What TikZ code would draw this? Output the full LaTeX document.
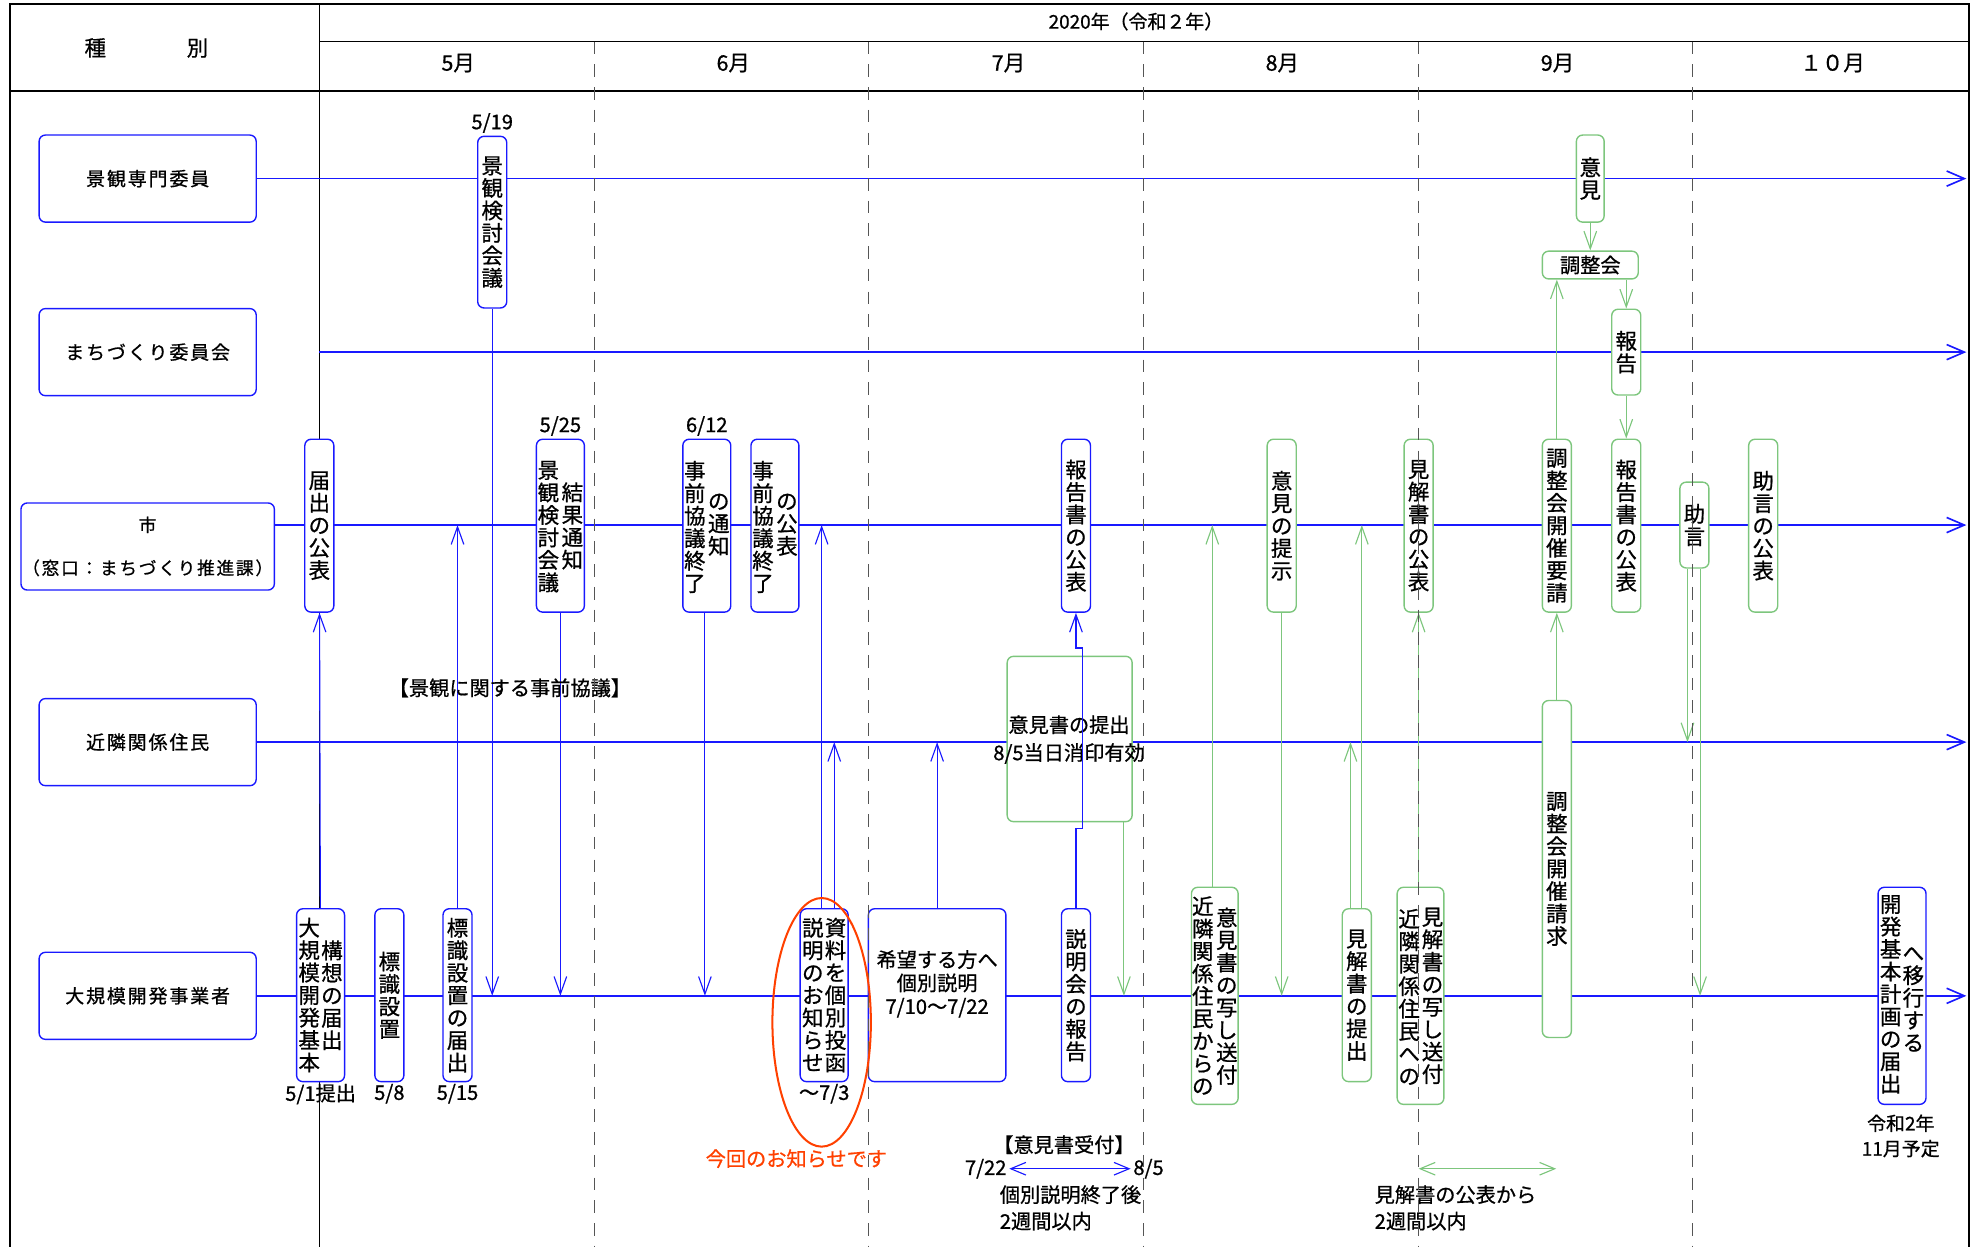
\documentclass[tikz,border=0pt]{standalone}
\usepackage{fontspec}
\setmainfont{Noto Sans CJK JP}[FakeBold=0.8]
\newfontfamily\rowfont[LetterSpace=10, FakeBold=0.8]{Noto Sans CJK JP}
\usetikzlibrary{shapes.geometric, arrows.meta, positioning, calc, backgrounds}

\definecolor{lineblue}{RGB}{25,25,255}
\definecolor{lgreen}{RGB}{125,198,125}
\definecolor{alert}{RGB}{255,64,0}
\definecolor{sepgray}{RGB}{85,85,85}

% stack characters for vertical labels
\ExplSyntaxOn
\NewDocumentCommand{\tate}{m}
  {
    \seq_clear:N \l_tmpa_seq
    \tl_map_inline:nn {#1} { \seq_put_right:Nn \l_tmpa_seq {##1} }
    \seq_use:Nn \l_tmpa_seq { \\ }
  }
\ExplSyntaxOff

\begin{document}
\begin{tikzpicture}[
    x=1pt, y=-1pt,
    font=\fontsize{15}{18}\selectfont,
    >={Straight Barb[length=14pt, width=10pt]},
    % Define styles
    rowbox/.style={rectangle, rounded corners=5pt, draw=lineblue, line width=1.1pt, fill=white, minimum width=172pt, minimum height=69pt, align=center, font={\rowfont\fontsize{15}{18}\selectfont}},
    vbox/.style={rectangle, rounded corners=5pt, draw=lineblue, line width=1.1pt, fill=white, minimum width=23pt, inner sep=0pt, align=center, font=\fontsize{17}{17.8}\selectfont},
    gbox/.style={vbox, draw=lgreen},
    vtext/.style={anchor=north, inner sep=0pt, align=center, font=\fontsize{17}{17.8}\selectfont},
    date/.style={inner sep=1pt, font=\fontsize{16}{18}\selectfont},
    note/.style={inner sep=2pt, font=\fontsize{16}{21}\selectfont},
    month/.style={font=\fontsize{17}{19}\selectfont},
    rowline/.style={->, >={Straight Barb[length=14pt, width=12pt]}, draw=lineblue, line width=1.3pt},
    flow/.style={->, draw=lineblue, line width=0.9pt},
    gflow/.style={->, draw=lgreen, line width=0.9pt},
    monthsep/.style={draw=sepgray, line width=0.9pt, dash pattern=on 10pt off 8pt}
]
\useasboundingbox (0,0) rectangle (1568,988);

% 1. Header
\node[month] (kind) at (116,38) {種\hspace{64pt}別};
\node[font=\fontsize{15}{17}\selectfont] (year) at (900,17) {2020年（令和２年）};
\foreach \m/\x in {5月/363, 6月/581, 7月/799, 8月/1016, 9月/1234, １０月/1452}
    \node[month] (m\x) at (\x,50) {\m};

% 2. Parties
\node[rowbox] (landscape) at (117,141.5) {景観専門委員};
\node[rowbox] (council) at (117,279) {まちづくり委員会};
\node[rowbox, minimum width=200pt, inner sep=1pt, font={\rowfont\fontsize{14}{34}\selectfont}] (city) at (117,433) {市\\（窓口：まちづくり推進課）};
\node[rowbox] (residents) at (117,588) {近隣関係住民};
\node[rowbox] (developer) at (117,789) {大規模開発事業者};

\coordinate (yC) at (0,416);
\coordinate (yR) at (0,588);
\coordinate (yD) at (0,789);
\coordinate (xEnd) at (1558,0);
\coordinate (councilStart) at (253,279);

% 3. Landscape review (blue)
\node[vbox, minimum height=136pt] (review) at (390,176) {\tate{景観検討会議}};
\node[date, above=1pt of review] (d519) {5/19};
\node[vbox, minimum height=137pt] (publish) at (253,416.5) {\tate{届出の公表}};
\node[vbox, minimum width=38pt, minimum height=137pt] (result) at (444,416.5) {};
\node[vtext] (resultL) at (434.5,365) {\tate{景観検討会議}};
\node[vtext] (resultR) at (453.5,382) {\tate{結果通知}};
\node[date, above=1pt of result] (d525) {5/25};
\node[vbox, minimum width=38pt, minimum height=137pt] (endNotice) at (560,416.5) {};
\node[vtext] (endNoticeL) at (550.5,365) {\tate{事前協議終了}};
\node[vtext] (endNoticeR) at (569.5,391) {\tate{の通知}};
\node[date, above=1pt of endNotice] (d612) {6/12};
\node[vbox, minimum width=38pt, minimum height=137pt] (endPub) at (614,416.5) {};
\node[vtext] (endPubL) at (604.5,365) {\tate{事前協議終了}};
\node[vtext] (endPubR) at (623.5,391) {\tate{の公表}};
\node[vbox, minimum height=137pt] (reportPub) at (852.5,416.5) {\tate{報告書の公表}};

% 4. Developer steps (blue)
\node[vbox, minimum width=38pt, minimum height=137pt] (concept) at (254,788.5) {};
\node[vtext] (conceptL) at (245,727) {\tate{大規模開発基本}};
\node[vtext] (conceptR) at (263,745) {\tate{構想の届出}};
\node[date, below=0pt of concept] (d51) {5/1提出};
\node[vbox, minimum height=137pt] (sign) at (308.5,788.5) {\tate{標識設置}};
\node[date, below=0pt of sign] (d58) {5/8};
\node[vbox, minimum height=137pt] (signFiled) at (362.5,788.5) {\tate{標識設置の届出}};
\node[date, below=0pt of signFiled] (d515) {5/15};
\node[vbox, minimum width=38pt, minimum height=137pt] (flyer) at (653,788.5) {};
\node[vtext] (flyerL) at (644,727) {\tate{説明のお知らせ}};
\node[vtext] (flyerR) at (662,727) {\tate{資料を個別投函}};
\node[date, below=0pt of flyer] (d73) {～7/3};
\node[vbox, minimum width=109pt, minimum height=137pt] (visit) at (742.5,788.5) {};
\node[note, align=center, font=\fontsize{16}{18.5}\selectfont] (visitTxt) at (742.5,779.5) {希望する方へ\\個別説明\\7/10～7/22};
\node[vbox, minimum height=137pt] (briefReport) at (852.5,788.5) {\tate{説明会の報告}};
\node[vbox, minimum width=38pt, minimum height=172pt] (planFiled) at (1507,789) {};
\node[vtext] (planFiledL) at (1498,709) {\tate{開発基本計画の届出}};
\node[vtext] (planFiledR) at (1516,750) {\tate{へ移行する}};
\node[note, align=center, font=\fontsize{15}{20}\selectfont] (nov) at (1506,900) {令和2年\\11月予定};

% 5. Opinion and adjustment (green)
\node[gbox, minimum width=99pt, minimum height=131pt] (writ) at (847.5,585.5) {};
\node[note, align=center, font=\fontsize{16}{22}\selectfont] (writTxt) at (847,586) {意見書の提出\\8/5当日消印有効};
\node[gbox, minimum height=137pt] (showOpinion) at (1015.5,416.5) {\tate{意見の提示}};
\node[gbox, minimum width=37pt, minimum height=172pt] (copyIn) at (962.5,789) {};
\node[vtext] (copyInL) at (953,710) {\tate{近隣関係住民からの}};
\node[vtext] (copyInR) at (972,719) {\tate{意見書の写し送付}};
\node[gbox, minimum height=137pt] (viewFiled) at (1075,788.5) {\tate{見解書の提出}};
\node[gbox, minimum height=137pt] (viewPub) at (1124,416.5) {\tate{見解書の公表}};
\node[gbox, minimum width=37pt, minimum height=172pt] (copyOut) at (1125.5,789) {};
\node[vtext] (copyOutL) at (1116.5,720) {\tate{近隣関係住民への}};
\node[vtext] (copyOutR) at (1135,719) {\tate{見解書の写し送付}};
\node[gbox, minimum height=137pt] (request) at (1233.5,416.5) {\tate{調整会開催要請}};
\node[gbox, minimum height=267pt] (claim) at (1233.5,688.5) {\tate{調整会開催請求}};
\node[gbox, minimum width=22pt, minimum height=69pt] (opinion) at (1260,141.5) {\tate{意見}};
\node[gbox, minimum width=76pt, minimum height=22pt, font=\fontsize{16}{18}\selectfont] (meeting) at (1260,210) {調整会};
\node[gbox, minimum height=68pt] (report) at (1288.5,279) {\tate{報告}};
\node[gbox, minimum height=137pt] (reportPub2) at (1288.5,416.5) {\tate{報告書の公表}};
\node[gbox, minimum height=68pt] (advice) at (1342.5,416) {\tate{助言}};
\node[gbox, minimum height=137pt] (advicePub) at (1397,416.5) {\tate{助言の公表}};

% 6. Notes
\node[note] (prior) at (404,545) {【景観に関する事前協議】};
\node[note] (accept) at (843,907) {【意見書受付】};
\node[note] (d722) at (781,926) {7/22};
\node[note] (d85) at (910,926) {8/5};
\node[note, align=left, anchor=west] (within1) at (790,957) {個別説明終了後\\2週間以内};
\node[note, align=left, anchor=west] (within2) at (1087,957) {見解書の公表から\\2週間以内};
\coordinate (g1) at (1124,926);
\coordinate (g2) at (1233,926);

% Frame, row lines and connections
\begin{scope}[on background layer]
    \draw[line width=1.6pt] (8,988) -- (8,3) -- (1560,3) -- (1560,988);
    \draw[line width=1.2pt] (8,72) -- (1560,72);
    \draw[line width=0.8pt] (253,33) -- (1560,33);
    \draw[line width=0.8pt] (253,3) -- (253,988);

    \draw[rowline] (landscape) -- (landscape -| xEnd);
    \draw[rowline] (councilStart) -- (councilStart -| xEnd);
    \draw[rowline] (city.east |- yC) -- (yC -| xEnd);
    \draw[rowline] (residents) -- (residents -| xEnd);
    \draw[rowline] (developer) -- (developer -| xEnd);

    % blue flows
    \draw[flow] (review) -- (review |- yD);
    \draw[flow] (result) -- (result |- yD);
    \draw[flow] ([xshift=-1.5pt]endNotice.south) -- ([xshift=-1.5pt]endNotice.south |- yD);
    \draw[flow] (concept) -- (publish);
    \draw[flow] (signFiled) -- (signFiled |- yC);
    \draw[flow] ([xshift=-2pt]flyer.north) -- ([xshift=-2pt]flyer.north |- yC);
    \draw[flow] ([xshift=8pt]flyer.north) -- ([xshift=8pt]flyer.north |- yR);
    \draw[flow] (visit) -- (visit |- yR);

    % green flows
    \draw[gflow] ([xshift=43pt]writ.south) -- ([xshift=43pt]writ.south |- yD);
    \draw[gflow] (showOpinion) -- (showOpinion |- yD);
    \draw[gflow] ([xshift=-2pt]copyIn.north) -- ([xshift=-2pt]copyIn.north |- yC);
    \draw[gflow] ([xshift=-5pt]viewFiled.north) -- ([xshift=-5pt]viewFiled.north |- yR);
    \draw[gflow] ([xshift=4pt]viewFiled.north) -- ([xshift=4pt]viewFiled.north |- yC);
    \draw[gflow] (viewPub.south |- copyOut.north) -- (viewPub.south);
    \draw[gflow] (claim) -- (request);
    \draw[gflow] (request.north) -- (request.north |- meeting.south);
    \draw[gflow] (opinion) -- (meeting);
    \draw[gflow] (report.north |- meeting.south) -- (report.north);
    \draw[gflow] (report) -- (reportPub2);
    \draw[gflow] ([xshift=-5.5pt]advice.south) -- ([xshift=-5.5pt]advice.south |- yR);
    \draw[gflow] ([xshift=4.5pt]advice.south) -- ([xshift=4.5pt]advice.south |- yD);
\end{scope}

% report goes round the opinion box
\draw[flow] (briefReport.north) -- ++(0,-63) -- ++(5,0) -- ++(0,-143) -- ++(-5,0) -- (reportPub.south);

% periods
\draw[flow, <->, >={Straight Barb[length=12pt, width=10pt]}] (d722) -- (d85);
\draw[gflow, <->, >={Straight Barb[length=12pt, width=10pt]}] (g1) -- (g2);

% Month separators
\foreach \x in {471, 688, 906, 1124, 1341}
    \draw[monthsep] (\x,33) -- (\x,988);

% This notice
\node[ellipse, draw=alert, line width=1.6pt, minimum width=78pt, minimum height=197pt, inner sep=0pt] (thisNotice) at (651,810) {};
\node[note, text=alert] (thisTxt) at (631,918) {今回のお知らせです};

\end{tikzpicture}
\end{document}
